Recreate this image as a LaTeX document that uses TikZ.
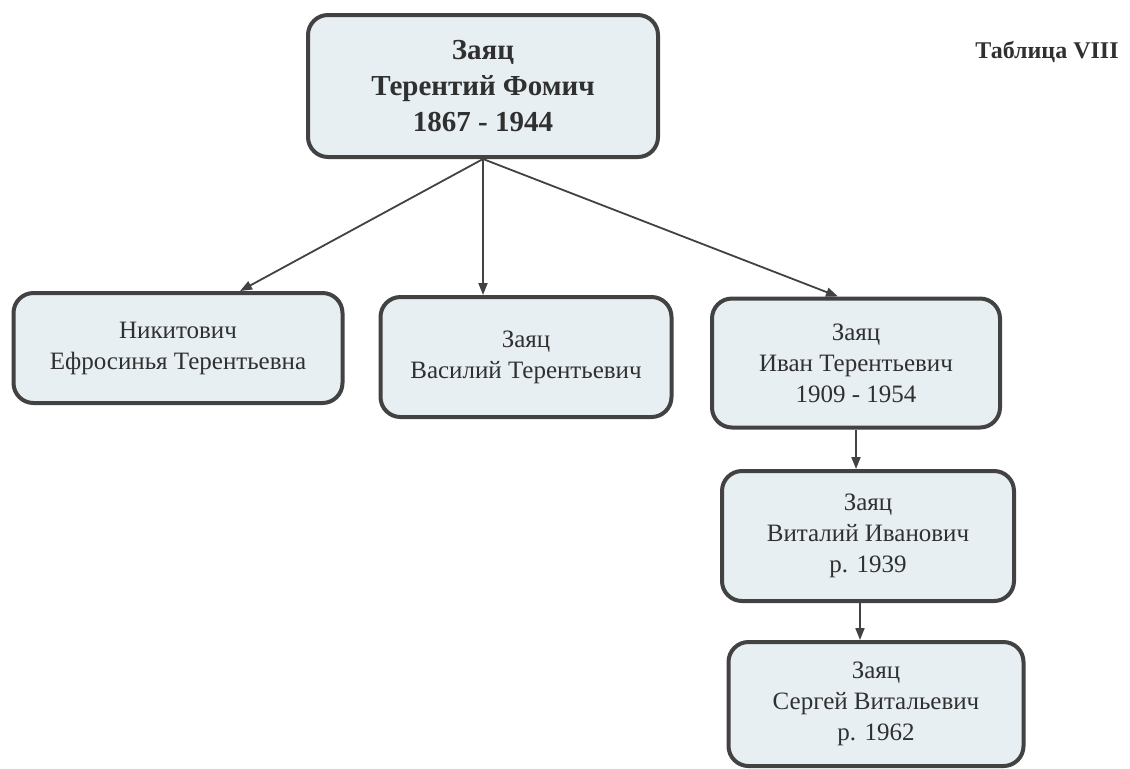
\documentclass[tikz,border=0pt]{standalone}
\usepackage{fontspec}
\setmainfont{Liberation Serif}
\usetikzlibrary{arrows.meta}
\definecolor{boxfill}{HTML}{E7EFF3}
\definecolor{boxline}{HTML}{424242}
\definecolor{ink}{HTML}{303030}
\begin{document}
\begin{tikzpicture}[x=.5pt,y=-.5pt,
	person/.style={draw=boxline,fill=boxfill,line width=2pt,rounded corners=10pt,align=center,text=ink,font=\fontsize{12.5}{15.5}\selectfont},
	link/.style={-{Triangle[length=6pt,width=4.5pt]},draw=boxline,line width=.9pt}]
	\useasboundingbox (0,0) rectangle (1130,768);
	\node[person,minimum width=175pt,minimum height=71pt,font=\fontsize{14.5}{18}\selectfont\bfseries] (top) at (483,86) {Заяц\\Терентий Фомич\\1867 - 1944};
	\node[text=ink,font=\fontsize{12}{14}\selectfont\bfseries] (tab) at (1047,52) {Таблица VIII};
	
	\node[person,minimum width=164.5pt,minimum height=55pt] (efr) at (178,348) {Никитович\\Ефросинья Терентьевна};
	\node[person,minimum width=145.5pt,minimum height=60pt] (vas) at (526,357) {Заяц\\Василий Терентьевич};
	\node[person,minimum width=144pt,minimum height=64.5pt] (ivan) at (856,363) {Заяц\\Иван Терентьевич\\1909 - 1954};
	\node[person,minimum width=146pt,minimum height=65pt] (vit) at (868,536) {Заяц\\Виталий Иванович\\р. 1939};
	\node[person,minimum width=147.5pt,minimum height=62pt] (serg) at (876,704) {Заяц\\Сергей Витальевич\\р. 1962};
	
	\draw[link] (top.south) -- ([xshift=31pt]efr.north);
	\draw[link] (top.south) -- (top.south |- vas.north);
	\draw[link] (top.south) -- ([xshift=-9pt]ivan.north);
	\draw[link] (ivan.south) -- (ivan.south |- vit.north);
	\draw[link] ([xshift=-4pt]vit.south) -- ([xshift=-4pt]vit.south |- serg.north);
\end{tikzpicture}
\end{document}
